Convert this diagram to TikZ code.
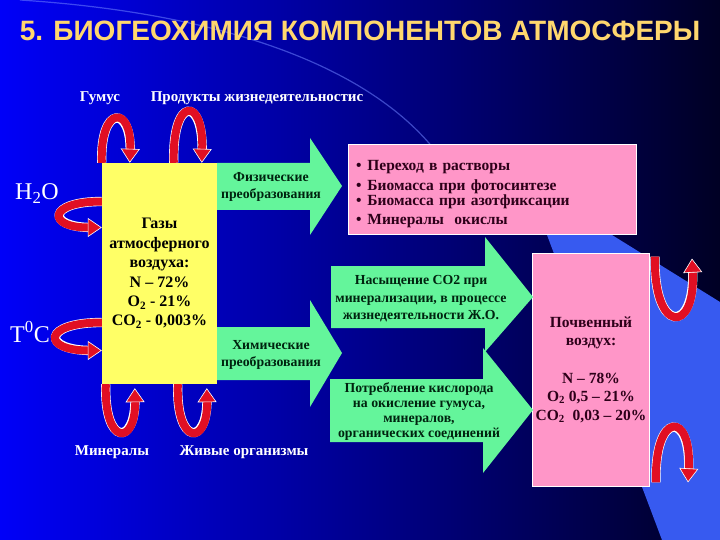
\documentclass[tikz,border=0pt]{standalone}
\usepackage{fontspec}
\setmainfont{Liberation Serif}
\newfontfamily\titlefont{Liberation Sans}
\usepackage{tikz}
\usetikzlibrary{arrows.meta, positioning, calc}
\definecolor{bgleft}{RGB}{0,0,248}
\definecolor{bgright}{RGB}{0,0,36}
\definecolor{bandblue}{RGB}{55,90,240}
\definecolor{arcblue}{RGB}{110,130,255}
\definecolor{mintgreen}{RGB}{100,245,155}
\definecolor{lemon}{RGB}{255,255,102}
\definecolor{rosepink}{RGB}{255,150,200}
\definecolor{arrred}{RGB}{225,15,35}
\definecolor{titlegold}{RGB}{255,215,110}
\definecolor{plumtext}{RGB}{45,0,25}
\definecolor{pinetext}{RGB}{0,35,15}

\begin{document}
\begin{tikzpicture}[x=1pt, y=-1pt,
    ybox/.style={fill=lemon, minimum width=115pt, minimum height=221pt, align=center,
                 font=\bfseries\fontsize{16}{19.4}\selectfont},
    pbox/.style={fill=rosepink, draw=white, line width=0.8pt, text=plumtext,
                 font=\bfseries\fontsize{15.5}{18.5}\selectfont},
    garrow/.style={fill=mintgreen},
    gtext/.style={align=center, text=pinetext, font=\bfseries\fontsize{13.8}{17.5}\selectfont},
    wlabel/.style={text=white, font=\bfseries\fontsize{15}{18}\selectfont},
    chem/.style={text=white, inner sep=0pt, anchor=base west, font=\fontsize{24}{28}\selectfont},
    curv/.style={line width=8pt, draw=arrred,
                 -{Triangle[width=19pt, length=14pt, fill=arrred, color=white, line width=0.6pt]},
                 preaction={draw=white, line width=9.3pt, -, shorten >=10pt}}
  ]
  \useasboundingbox (0,0) rectangle (720,540);
  \shade[left color=bgleft, right color=bgright] (0,0) rectangle (720,540);
  \fill[bandblue] (547,235) -- (612,235) -- (720,302) -- (720,540) -- (662,540) -- cycle;
  \draw[arcblue, opacity=0.55, line width=1.2pt] (20,0) .. controls (250,15) and (400,80) .. (455,180);

  \node[text=titlegold, font=\titlefont\bfseries\fontsize{28}{30}\selectfont] (title) at (360,31)
    {5. БИОГЕОХИМИЯ КОМПОНЕНТОВ АТМОСФЕРЫ};

  \node[pbox, minimum width=288pt, minimum height=90pt, text width=272pt, align=left,
        inner xsep=8pt] (trans) at (492,189)
    {\rule{0pt}{20pt}\textbullet\hspace{6pt}Переход в растворы\\[2pt]
     \textbullet\hspace{6pt}Биомасса при фотосинтезе\\[-4pt]
     \textbullet\hspace{6pt}Биомасса при азотфиксации\\[1pt]
     \textbullet\hspace{6pt}Минералы\ \ окислы};
  \node[pbox, minimum width=114pt, minimum height=233pt, align=center] (soil) at (591,369.5)
    {Почвенный\\воздух:\\[19pt]N – 78\%\\O\textsubscript{2} 0,5 – 21\%\\CO\textsubscript{2}~~0,03 – 20\%};

  \fill[garrow] (217,163) -- (310,163) -- (310,138) -- (342,186) -- (310,235) -- (310,210) -- (217,210) -- cycle;
  \fill[garrow] (217,327) -- (310,327) -- (310,300) -- (342,353) -- (310,407) -- (310,380) -- (217,380) -- cycle;
  \fill[garrow] (331,266) -- (485,266) -- (485,237) -- (533,297) -- (485,352) -- (485,328) -- (331,328) -- cycle;
  \fill[garrow] (330,379) -- (483,379) -- (483,348) -- (533,410) -- (483,473) -- (483,442) -- (330,442) -- cycle;
  \node[gtext] (phys) at (271,187) {Физические\\преобразования};
  \node[gtext] (chemt) at (271,355) {Химические\\преобразования};
  \node[gtext] (satur) at (421,299) {Насыщение CO2 при\\минерализации, в процессе\\жизнедеятельности Ж.О.};
  \node[gtext, font=\bfseries\fontsize{13.8}{15}\selectfont] (consum) at (419,411.5)
    {Потребление кислорода\\на окисление гумуса,\\минералов,\\органических соединений};

  \node[ybox] (gas) at (159.5,273.5)
    {Газы\\атмосферного\\воздуха:\\N – 72\%\\O\textsubscript{2} - 21\%\\CO\textsubscript{2} - 0,003\%};

  \node[wlabel] (humus) at (100,98) {Гумус};
  \node[wlabel] (waste) at (257,98) {Продукты жизнедеятельностис};
  \node[wlabel] (minerals) at (112,452) {Минералы};
  \node[wlabel] (living) at (244,452) {Живые организмы};
  \node[chem] (water) at (15,200) {H\textsubscript{2}O};
  \node[chem] (temp) at (10,342) {T\textsuperscript{0}C};

  \draw[curv] (gas.north west) .. controls +(-2,-58) and +(2,-58) .. ([xshift=28pt]gas.north west);
  \draw[curv] ([xshift=72pt]gas.north west) .. controls +(-2,-67) and +(2,-67) .. ([xshift=100pt]gas.north west);
  \draw[curv] ([yshift=72pt]gas.west) .. controls +(-55,0) and +(-55,0) .. ([yshift=46pt]gas.west);
  \draw[curv] ([yshift=-49pt]gas.west) .. controls +(-60,0) and +(-60,0) .. ([yshift=-77pt]gas.west);
  \draw[curv] ([xshift=4pt]gas.south west) .. controls +(-2,62) and +(1,58) .. ([xshift=33pt,yshift=-4pt]gas.south west);
  \draw[curv] ([xshift=76pt]gas.south west) .. controls +(-2,62) and +(1,58) .. ([xshift=105pt,yshift=-4pt]gas.south west);
  \draw[curv] ([xshift=5pt,yshift=-4pt]soil.north east) .. controls +(-2,78) and +(4,76) .. ([xshift=42pt,yshift=-6pt]soil.north east);
  \draw[curv] ([xshift=6pt,yshift=4pt]soil.south east) .. controls +(-2,-72) and +(4,-72) .. ([xshift=38pt,yshift=4pt]soil.south east);
\end{tikzpicture}
\end{document}
